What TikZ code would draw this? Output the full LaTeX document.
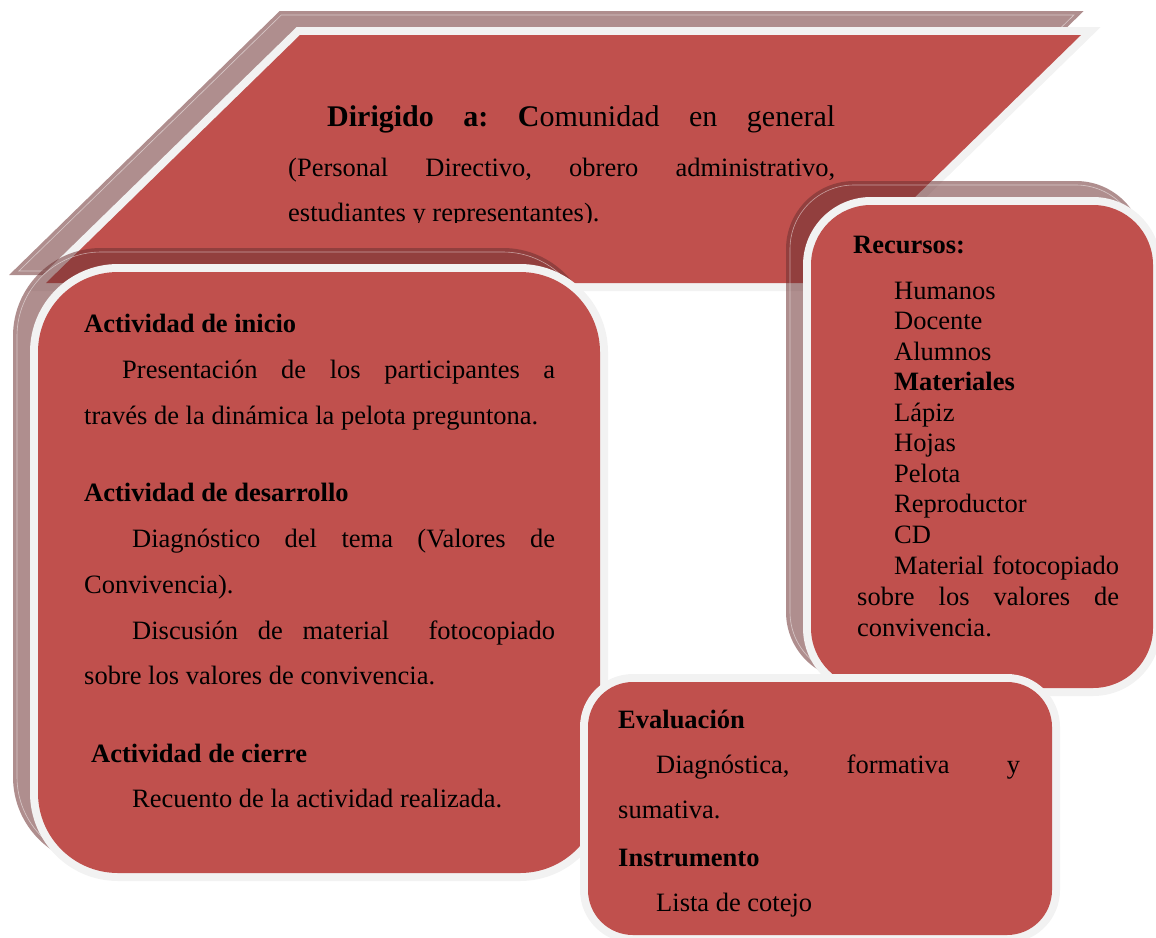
\documentclass[tikz,border=0pt]{standalone}
\usepackage{fontspec}
\setmainfont{Liberation Serif}
\usepackage{xcolor}
\usepackage{tikz}
\definecolor{boxred}{RGB}{192, 80, 77}
\definecolor{rimgray}{RGB}{242, 242, 242}
\definecolor{shadowbrown}{RGB}{110, 50, 50}
\newcommand{\jline}[2]{\makebox[#1pt][s]{#2}}
\frenchspacing

\begin{document}
\begin{tikzpicture}[
  x=1pt, y=-1pt,
  panel/.style={fill=boxred},
  rim/.style={fill=rimgray},
  shade/.style={fill=shadowbrown, opacity=0.55},
  gleam/.style={draw=white, opacity=0.5, line width=0.6pt},
  txt/.style={anchor=base west, inner sep=0pt, font=\fontsize{26.5}{30}\selectfont},
  head/.style={txt, font=\fontsize{26.5}{30}\selectfont\bfseries},
  title/.style={anchor=base west, inner sep=0pt, font=\fontsize{30}{34}\selectfont},
]
\useasboundingbox (0,0) rectangle (1156,937);

% Target group (parallelogram)
\fill[shade] (279.7,11) -- (1083.7,11) -- (813.1,275) -- (9.1,275) -- cycle;
\draw[gleam] (281.3,15) -- (1073.9,15) -- (811.5,271) -- (18.9,271) -- cycle;
\fill[rim] (296.7,27) -- (1100.7,27) -- (830.1,291) -- (26.1,291) -- cycle;
\fill[panel] (300,35) -- (1081,35) -- (827,283) -- (46,283) -- cycle;

\begin{scope}
\clip (0,0) rectangle (1156,222);
\node[title] (dir1) at (327,126) {\jline{508}{\textbf{Dirigido} \textbf{a:} \textbf{C}omunidad en general}};
\node[txt] (dir2) at (288,176) {\jline{547}{(Personal Directivo, obrero administrativo,}};
\node[txt] (dir3) at (288,221) {estudiantes y representantes).};
\end{scope}

% Activities box
\fill[shade, rounded corners=88pt] (13,248) rectangle (591,865);
\draw[gleam, rounded corners=84pt] (17,252) rectangle (587,861);
\fill[rim, rounded corners=88pt] (30,264) rectangle (608,881);
\fill[panel, rounded corners=80pt] (38,272) rectangle (600,873);

\node[head] (ini1) at (84,332) {Actividad de inicio};
\node[txt]  (ini2) at (122,378) {\jline{433}{Presentación de los participantes a}};
\node[txt]  (ini3) at (84,424) {través de la dinámica la pelota preguntona.};
\node[head] (des1) at (84,501) {Actividad de desarrollo};
\node[txt]  (des2) at (132,547) {\jline{423}{Diagnóstico del tema (Valores de}};
\node[txt]  (des3) at (84,593) {Convivencia).};
\node[txt]  (des4) at (132,639) {\jline{423}{Discusión de material\ \ fotocopiado}};
\node[txt]  (des5) at (84,684) {sobre los valores de convivencia.};
\node[head] (cie1) at (91,762) {Actividad de cierre};
\node[txt]  (cie2) at (132,807) {Recuento de la actividad realizada.};

% Resources box
\fill[shade, rounded corners=68pt] (786,181) rectangle (1144,680);
\draw[gleam, rounded corners=64pt] (790,185) rectangle (1140,676);
\fill[rim, rounded corners=68pt] (803,197) rectangle (1161,696);
\fill[panel, rounded corners=60pt] (811,205) rectangle (1153,688);

\node[head] (rec0)  at (853,253) {Recursos:};
\node[txt]  (rec1)  at (894,299) {Humanos};
\node[txt]  (rec2)  at (894,329.5) {Docente};
\node[txt]  (rec3)  at (894,360) {Alumnos};
\node[head] (rec4)  at (894,390.5) {Materiales};
\node[txt]  (rec5)  at (894,421) {Lápiz};
\node[txt]  (rec6)  at (894,451.5) {Hojas};
\node[txt]  (rec7)  at (894,482) {Pelota};
\node[txt]  (rec8)  at (894,512.5) {Reproductor};
\node[txt]  (rec9)  at (894,543.5) {CD};
\node[txt]  (rec10) at (894,574.5) {\jline{225}{Material fotocopiado}};
\node[txt]  (rec11) at (857,605.5) {\jline{262}{sobre los valores de}};
\node[txt]  (rec12) at (857,636) {convivencia.};

% Evaluation box
\fill[rim, rounded corners=53pt] (580,674) rectangle (1060,943);
\fill[panel, rounded corners=45pt] (588,682) rectangle (1052,935);

\node[head] (eva1) at (618,728) {Evaluación};
\node[txt]  (eva2) at (656,773) {\jline{364}{Diagnóstica, formativa y}};
\node[txt]  (eva3) at (618,818) {sumativa.};
\node[head] (eva4) at (618,866) {Instrumento};
\node[txt]  (eva5) at (656,911) {Lista de cotejo};

\end{tikzpicture}
\end{document}
